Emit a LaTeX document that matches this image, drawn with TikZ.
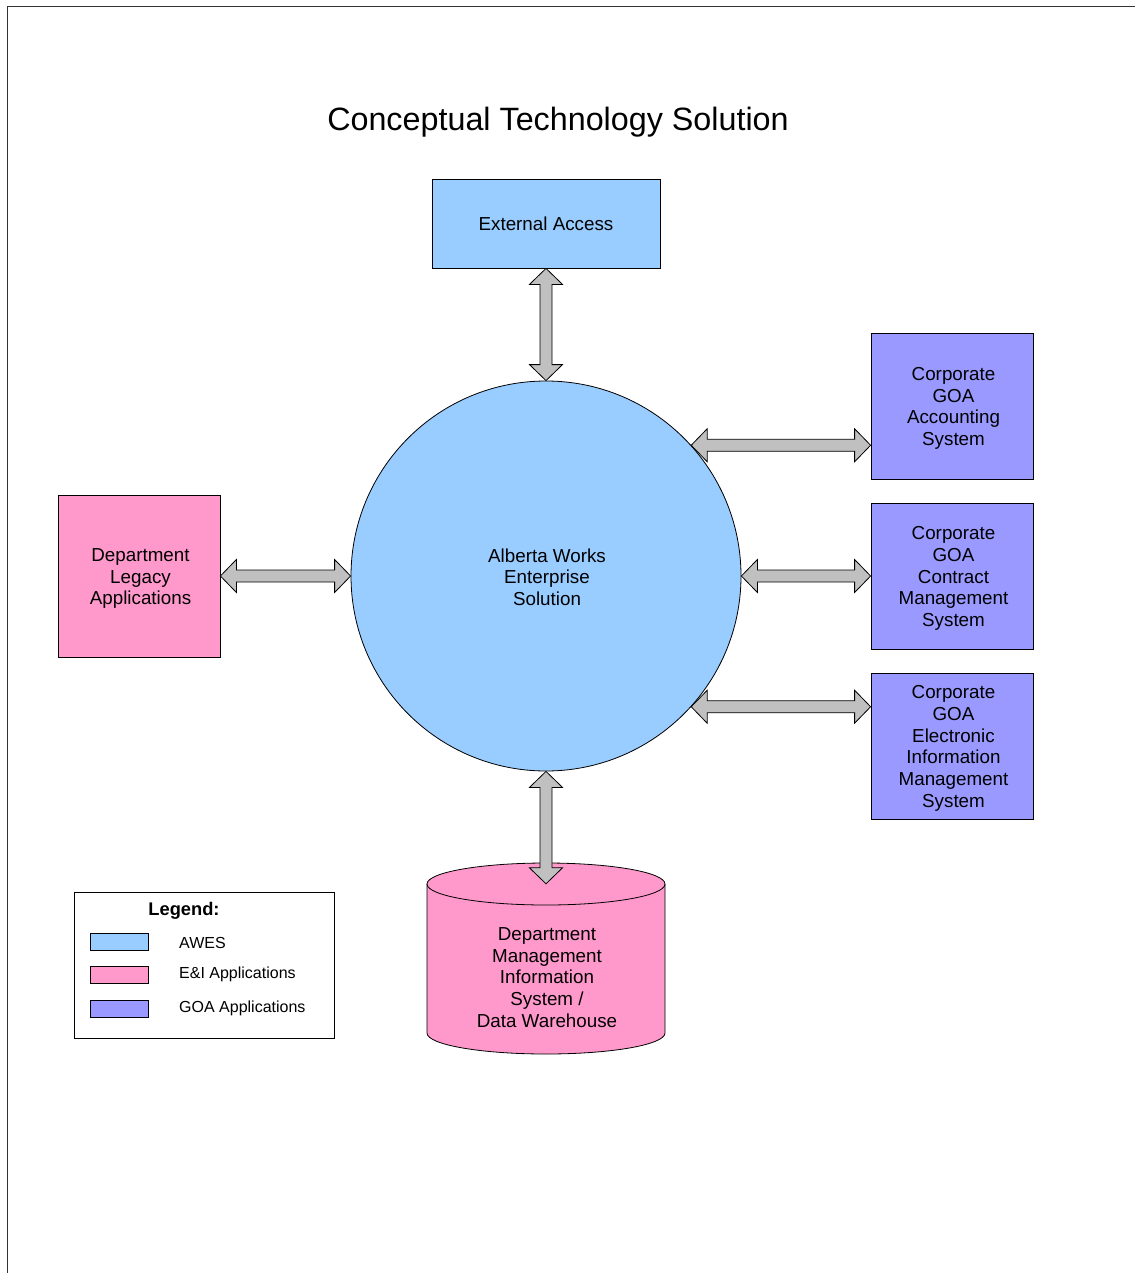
\documentclass[tikz,border=0pt]{standalone}
\usepackage{fontspec}
\setmainfont{Liberation Sans}
\usetikzlibrary{calc}
\definecolor{awesblue}{HTML}{99CCFF}
\definecolor{eipink}{HTML}{FF99CC}
\definecolor{goapurple}{HTML}{9999FF}
\definecolor{arrowgray}{HTML}{C0C0C0}
\newcommand{\tfbody}{\fontsize{18.8}{21.7}\selectfont}
\newcommand{\dblarr}[2]{%
  \coordinate (da1) at ($(#1)!16pt!(#2)$);
  \coordinate (da2) at ($(#2)!16pt!(#1)$);
  \filldraw[arrowstyle] (#1)
    -- ($(da1)!16.5pt!90:(#2)$) -- ($(da1)!6pt!90:(#2)$)
    -- ($(da2)!6pt!-90:(#1)$) -- ($(da2)!16.5pt!-90:(#1)$)
    -- (#2)
    -- ($(da2)!16.5pt!90:(#1)$) -- ($(da2)!6pt!90:(#1)$)
    -- ($(da1)!6pt!-90:(#2)$) -- ($(da1)!16.5pt!-90:(#2)$)
    -- cycle;}
\begin{document}
\begin{tikzpicture}[x=1pt,y=-1pt,
  box/.style={draw=black, line width=0.8pt, inner sep=0pt},
  boxtext/.style={align=center, font=\tfbody, inner sep=0pt, xshift=1.5pt, yshift=-2.5pt},
  arrowstyle/.style={fill=arrowgray, draw=black, line width=0.8pt, line join=miter},
  swatch/.style={draw=black, line width=0.8pt},
  legtext/.style={anchor=west, font=\fontsize{16}{19}\selectfont, inner sep=0pt}]
\useasboundingbox (0,0) rectangle (1135,1273);
% frame
\draw[black!80, line width=1pt] (1135,7) -- (7,7) -- (7,1273);
% title
\node (title) at (558,122) {\fontsize{32.3}{37}\selectfont Conceptual Technology Solution};
% nodes
\node[box, fill=awesblue, minimum width=228pt, minimum height=89pt, font=\tfbody] (ext) at (546,223.5) {External Access};
\node[box, circle, fill=awesblue, minimum size=390pt,
  label={[boxtext, xshift=-0.5pt, yshift=1.5pt]center:{Alberta Works\\Enterprise\\Solution}}] (awes) at (546,576) {};
\node[box, fill=eipink, minimum width=162pt, minimum height=162pt,
  label={[boxtext]center:{Department\\Legacy\\Applications}}] (legacy) at (139,576) {};
\node[box, fill=goapurple, minimum width=162pt, minimum height=146pt,
  label={[boxtext]center:{Corporate\\GOA\\Accounting\\System}}] (acct) at (952,406) {};
\node[box, fill=goapurple, minimum width=162pt, minimum height=146pt,
  label={[boxtext]center:{Corporate\\GOA\\Contract\\Management\\System}}] (cms) at (952,576) {};
\node[box, fill=goapurple, minimum width=162pt, minimum height=146pt,
  label={[boxtext]center:{Corporate\\GOA\\Electronic\\Information\\Management\\System}}] (eim) at (952,746) {};
% cylinder
\node[minimum width=238pt, minimum height=191pt, inner sep=0pt] (dw) at (546,958.5) {};
\filldraw[fill=eipink, draw=black, line width=0.8pt]
  (427,884) -- (427,1033) arc[start angle=180, end angle=360, x radius=119pt, y radius=21pt]
  -- (665,884) arc[start angle=0, end angle=180, x radius=119pt, y radius=21pt] -- cycle;
\draw[black, line width=0.8pt] (427,884) arc[start angle=180, end angle=360, x radius=119pt, y radius=21pt];
\node[align=center, font=\tfbody, inner sep=0pt] (dwtext) at (547,977.5) {Department\\Management\\Information\\System /\\Data Warehouse};
% connectors
\coordinate (dwtop) at ($(dw.north)+(0,21)$);
\coordinate (acctend) at (awes.42 -| acct.west);
\coordinate (eimend) at (awes.-42 -| eim.west);
\dblarr{ext.south}{awes.north}
\dblarr{awes.south}{dwtop}
\dblarr{legacy.east}{awes.west}
\dblarr{awes.east}{cms.west}
\dblarr{awes.42}{acctend}
\dblarr{awes.-42}{eimend}
% legend
\node[draw=black, line width=0.8pt, minimum width=260pt, minimum height=146pt, inner sep=0pt] (legend) at (204,965) {};
\node[font=\bfseries\fontsize{18.3}{21}\selectfont, inner sep=0pt] (legtitle) at (184,911) {Legend:};
\node[swatch, fill=awesblue, minimum width=58pt, minimum height=17pt, inner sep=0pt] (sw1) at (119,941.5) {};
\node[swatch, fill=eipink, minimum width=58pt, minimum height=17pt, inner sep=0pt] (sw2) at (119,974.5) {};
\node[swatch, fill=goapurple, minimum width=58pt, minimum height=17pt, inner sep=0pt] (sw3) at (119,1008.5) {};
\node[legtext] (lt1) at (179,942.5) {AWES};
\node[legtext] (lt2) at (179,974.5) {E\&I Applications};
\node[legtext] (lt3) at (179,1008.5) {GOA Applications};
\end{tikzpicture}
\end{document}
